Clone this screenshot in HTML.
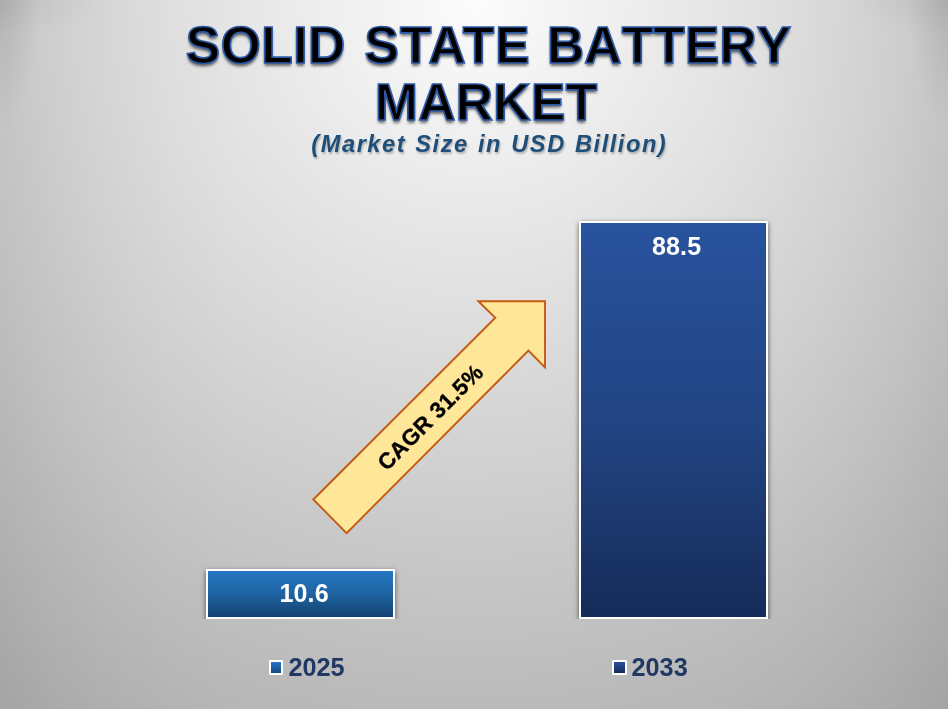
<!DOCTYPE html>
<html lang="en">
<head>
<meta charset="utf-8">
<title>Solid State Battery Market</title>
<style>
  html, body { margin: 0; padding: 0; }
  body {
    width: 948px; height: 709px; overflow: hidden; position: relative;
    font-family: "Liberation Sans", Arial, sans-serif;
    font-kerning: none;
    background:
      radial-gradient(ellipse 40px 130px at 0 0, rgba(0,0,0,0.09), rgba(0,0,0,0) 100%),
      radial-gradient(ellipse 110px 35px at 0 0, rgba(0,0,0,0.05), rgba(0,0,0,0) 100%),
      radial-gradient(ellipse 40px 130px at 948px 0, rgba(0,0,0,0.09), rgba(0,0,0,0) 100%),
      radial-gradient(ellipse 110px 35px at 948px 0, rgba(0,0,0,0.05), rgba(0,0,0,0) 100%),
      linear-gradient(to right, rgba(0,0,0,0.052) 0, rgba(0,0,0,0.03) 50px, rgba(0,0,0,0.015) 110px, rgba(0,0,0,0.005) 180px, rgba(0,0,0,0) 270px, rgba(0,0,0,0) 678px, rgba(0,0,0,0.005) 768px, rgba(0,0,0,0.015) 838px, rgba(0,0,0,0.03) 898px, rgba(0,0,0,0.052) 948px),
      radial-gradient(circle 850px at 474px 0, rgb(252,252,252) 0, rgb(173,173,173) 100%);
  }
  #stage { position: absolute; left: 0; top: 0; width: 948px; height: 709px; overflow: hidden; }

  .title {
    position: absolute; font-weight: bold; font-size: 51.5px; line-height: 57px;
    color: #000; white-space: nowrap; font-kerning: none;
    -webkit-text-stroke: 1.7px #2d58a4;
    text-shadow: 0 3px 3px rgba(0,0,0,0.55);
  }
  .w1 { left: 185.8px; top: 17px; letter-spacing: 0.53px; }
  .w2 { left: 364.6px; top: 17px; font-kerning: normal; letter-spacing: 0.95px; }
  .w3 { left: 547px; top: 17px; letter-spacing: 0.15px; }
  .w4 { left: 374.9px; top: 73.8px; letter-spacing: 0.39px; }
  .subtitle {
    position: absolute; left: 89.3px; top: 130px; width: 800px;
    text-align: center; font-weight: bold; font-style: italic;
    font-size: 23.7px; line-height: 28px; letter-spacing: 1.5px; word-spacing: 1.15px;
    color: #1f4e79; white-space: nowrap;
    text-shadow: 1px 2px 2px rgba(0,0,0,0.25);
  }

  .plot { position: absolute; left: 0; top: 180px; width: 948px; height: 439px; overflow: hidden; }
  .bar {
    position: absolute; box-sizing: border-box; border: 2.2px solid #fff;
    box-shadow: 0 2px 5px rgba(0,0,0,0.6);
  }
  .bar.b2025 { left: 205.9px; top: 388.9px; width: 189.3px; height: 50.1px;
    background: linear-gradient(to bottom, #2677c2 0%, #1f64a3 48%, #164a7c 89%, #124172 100%); }
  .bar.b2033 { left: 578.9px; top: 40.9px; width: 189.2px; height: 398.1px;
    background: linear-gradient(to bottom, #28539e 0%, #254b90 25%, #224483 51%, #1c386d 76%, #152b59 100%); }

  .val {
    position: absolute; color: #fff; font-weight: bold; font-size: 25.1px; line-height: 28px; letter-spacing: 0.1px;
    text-align: center; width: 120px; white-space: nowrap;
  }
  .v2033 { left: 616.6px; top: 232.3px; }
  .v2025 { left: 244.1px; top: 579.4px; }

  .legend { position: absolute; color: #1f3864; font-weight: bold; font-size: 25.25px; line-height: 28px; white-space: nowrap; }
  .mark { position: absolute; box-sizing: border-box; border: 2.1px solid #fff; border-radius: 1.2px; width: 14.2px; height: 15.2px; top: 659.8px; }
  .m2025 { left: 268.9px; background: linear-gradient(to bottom, #2674c1, #154a82); }
  .m2033 { left: 611.9px; width: 15.2px; background: linear-gradient(to bottom, #28519c, #132b5b); }
  .l2025 { left: 288.4px; top: 653px; }
  .l2033 { left: 631.5px; top: 653px; }

  svg.arrow { position: absolute; left: 0; top: 0; }
</style>
</head>
<body>
<div id="stage">
  <div class="title w1">SOLID</div> <div class="title w2">STATE</div> <div class="title w3">BATTERY</div>
  <div class="title w4">MARKET</div>
  <div class="subtitle">(Market Size in USD Billion)</div>

  <div class="plot">
    <div class="bar b2025"></div>
    <div class="bar b2033"></div>
  </div>
  <div class="val v2033">88.5</div>
  <div class="val v2025">10.6</div>

  <svg class="arrow" width="948" height="709" viewBox="0 0 948 709">
    <polygon points="313.3,499.5 495.3,317.7 478.3,301.2 545,301.2 545,367.5 528.4,350.6 346.6,533.1"
             fill="#ffe699" stroke="#c55a11" stroke-width="1.9" stroke-linejoin="miter"/>
    <text x="0" y="0" transform="translate(430.4,417.5) rotate(-45)" text-anchor="middle"
          font-family="Liberation Sans, Arial, sans-serif" font-weight="bold" font-size="22.4" letter-spacing="0.3" style="font-kerning:none"
          fill="#000" stroke="#000" stroke-width="0.35" dy="7.5">CAGR 31.5%</text>
  </svg>

  <div class="mark m2025"></div>
  <div class="legend l2025">2025</div>
  <div class="mark m2033"></div>
  <div class="legend l2033">2033</div>
</div>
</body>
</html>
